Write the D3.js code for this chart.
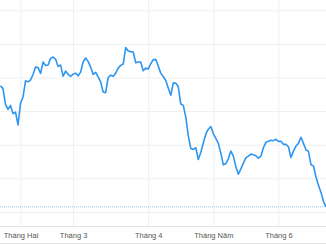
<!DOCTYPE html>
<meta charset="utf-8">
<style>
body{margin:0;background:#fff;}
svg text{font: 7.5px "Liberation Sans", Arial, sans-serif; fill:#555;}
.grid line{stroke:#f0f0f0;}
.grid path{display:none;}
.xaxis path{stroke:#e3e3e3;}
.xaxis line{stroke:#f0f0f0;}
</style>
<svg id="chart" width="326" height="245"></svg>
<script src="https://d3js.org/d3.v7.min.js"></script>
<script>
// one value per trading session, left to right
const PRICES = [
  77.5, 76.7, 72.0, 70.5, 71.7, 69.2, 69.7, 65.9, 72.3, 74.2,
  79.0, 78.7, 79.3, 80.9, 83.1, 83.0, 81.2, 84.6, 83.6, 83.7,
  85.7, 86.1, 85.5, 83.3, 83.7, 80.4, 81.9, 81.0, 80.3, 81.0,
  81.3, 80.5, 81.6, 84.6, 85.8, 84.8, 83.1, 80.9, 81.5, 80.2,
  78.7, 75.7, 75.5, 80.0, 80.7, 80.4, 81.3, 82.8, 83.6, 84.0,
  88.9, 87.9, 87.7, 87.6, 84.4, 84.6, 84.6, 82.0, 82.8, 82.5,
  84.1, 85.3, 85.4, 83.4, 81.3, 80.3, 79.1, 76.9, 74.7, 78.4,
  78.3, 77.3, 72.1, 71.7, 68.2, 62.7, 58.9, 58.6, 59.1, 55.6,
  57.7, 60.5, 63.2, 64.6, 65.4, 63.3, 61.9, 60.4, 57.5, 54.0,
  54.4, 55.8, 58.1, 56.6, 53.4, 51.2, 52.8, 54.5, 56.1, 56.6,
  57.2, 57.0, 56.7, 56.0, 56.6, 59.1, 60.7, 61.0, 61.3, 61.2,
  61.6, 61.0, 61.0, 60.1, 60.1, 59.4, 56.2, 58.1, 59.6, 60.4,
  62.2, 60.4, 58.5, 58.0, 54.0, 53.7, 50.4, 47.9, 45.8, 43.1,
  41.5
]
// session index where each month starts
const MONTH_IDX = [8, 29, 59, 85, 111]
const MONTH_LABELS = ['Tháng Hai', 'Tháng 3', 'Tháng 4', 'Tháng Năm', 'Tháng 6']
const GRID_VALUES = [40, 50, 60, 70, 80, 90, 100]

const W = 326, BOTTOM = 226
let svg = d3.select('#chart')

let x = d3.scaleLinear().domain([0, PRICES.length - 1]).range([0.5, 326])
let y = d3.scaleLinear().domain([40, 100]).range([211.9, 10.3])

// horizontal grid
svg.append('g').attr('class', 'grid')
  .call(d3.axisRight(y).tickValues(GRID_VALUES).tickSize(W).tickFormat(''))

// month ticks + vertical grid
let xg = svg.append('g').attr('class', 'xaxis')
  .attr('transform', `translate(0,${BOTTOM})`)
  .call(d3.axisBottom(x).tickValues(MONTH_IDX)
    .tickFormat((d, i) => MONTH_LABELS[i])
    .tickSizeInner(-BOTTOM).tickSizeOuter(0).tickPadding(7))
xg.select('.domain').attr('d', `M0,0.5H${W}`)

svg.append('line').attr('x1', 0).attr('x2', W).attr('y1', 243.5).attr('y2', 243.5)
  .attr('stroke', '#e8e8e8')

// last price marker line
let last = PRICES[PRICES.length - 1]
svg.append('line')
  .attr('x1', 0).attr('x2', W)
  .attr('y1', y(last)).attr('y2', y(last))
  .attr('stroke', '#8ec8f4').attr('stroke-dasharray', '1,1')

let line = d3.line().x((d, i) => x(i)).y(d => y(d))
svg.append('path').datum(PRICES)
  .attr('d', line)
  .attr('fill', 'none')
  .attr('stroke', '#2e96ef')
  .attr('stroke-width', 1.6)
  .attr('stroke-linejoin', 'round')
</script>
